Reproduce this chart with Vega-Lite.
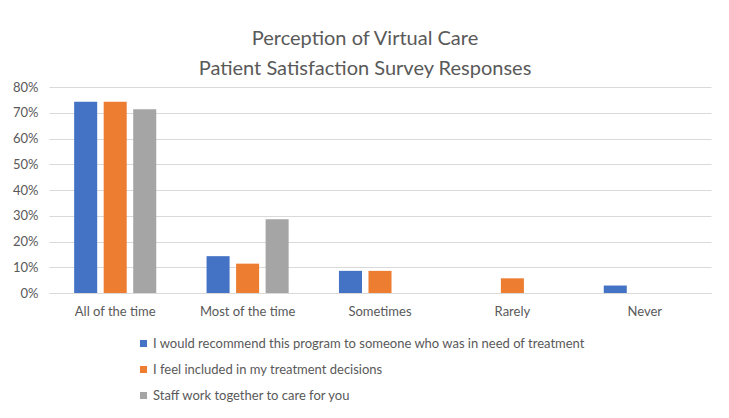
{
  "$schema": "https://vega.github.io/schema/vega-lite/v6.json",
  "width": 662,
  "height": 206,
  "autosize": "none",
  "padding": {"left": 49, "top": 87, "right": 18, "bottom": 125},
  "background": "white",
  "title": {
    "text": ["Perception of Virtual Care", "Patient Satisfaction Survey Responses"],
    "anchor": "middle",
    "dx": -15,
    "offset": 2,
    "font": "Lato",
    "fontSize": 20,
    "fontWeight": "normal",
    "color": "#595959",
    "lineHeight": 30
  },
  "data": {
    "values": [
      {"response": "All of the time", "question": "I would recommend this program to someone who was in need of treatment", "pct": 0.743},
      {"response": "All of the time", "question": "I feel included in my treatment decisions", "pct": 0.743},
      {"response": "All of the time", "question": "Staff work together to care for you", "pct": 0.714},
      {"response": "Most of the time", "question": "I would recommend this program to someone who was in need of treatment", "pct": 0.143},
      {"response": "Most of the time", "question": "I feel included in my treatment decisions", "pct": 0.114},
      {"response": "Most of the time", "question": "Staff work together to care for you", "pct": 0.286},
      {"response": "Sometimes", "question": "I would recommend this program to someone who was in need of treatment", "pct": 0.086},
      {"response": "Sometimes", "question": "I feel included in my treatment decisions", "pct": 0.086},
      {"response": "Sometimes", "question": "Staff work together to care for you", "pct": 0},
      {"response": "Rarely", "question": "I would recommend this program to someone who was in need of treatment", "pct": 0},
      {"response": "Rarely", "question": "I feel included in my treatment decisions", "pct": 0.057},
      {"response": "Rarely", "question": "Staff work together to care for you", "pct": 0},
      {"response": "Never", "question": "I would recommend this program to someone who was in need of treatment", "pct": 0.029},
      {"response": "Never", "question": "I feel included in my treatment decisions", "pct": 0},
      {"response": "Never", "question": "Staff work together to care for you", "pct": 0}
    ]
  },
  "mark": {"type": "bar"},
  "encoding": {
    "x": {
      "field": "response",
      "type": "nominal",
      "sort": ["All of the time", "Most of the time", "Sometimes", "Rarely", "Never"],
      "scale": {"paddingInner": 0.38, "paddingOuter": 0.19},
      "axis": {
        "title": null,
        "labelAngle": 0,
        "ticks": false,
        "domainColor": "#d9d9d9",
        "labelFont": "Lato",
        "labelFontSize": 13,
        "labelColor": "#595959",
        "labelPadding": 12
      }
    },
    "xOffset": {
      "field": "question",
      "type": "nominal",
      "sort": ["I would recommend this program to someone who was in need of treatment", "I feel included in my treatment decisions", "Staff work together to care for you"],
      "scale": {"paddingInner": 0.22, "paddingOuter": 0}
    },
    "y": {
      "field": "pct",
      "type": "quantitative",
      "scale": {"domain": [0, 0.8], "nice": false},
      "axis": {
        "title": null,
        "format": ".0%",
        "values": [0, 0.1, 0.2, 0.3, 0.4, 0.5, 0.6, 0.7, 0.8],
        "labelOverlap": false,
        "domain": false,
        "ticks": false,
        "gridColor": "#d9d9d9",
        "labelFont": "Lato",
        "labelFontSize": 13,
        "labelColor": "#595959",
        "labelPadding": 11
      }
    },
    "color": {
      "field": "question",
      "type": "nominal",
      "sort": ["I would recommend this program to someone who was in need of treatment", "I feel included in my treatment decisions", "Staff work together to care for you"],
      "scale": {"range": ["#4472C4", "#ED7D31", "#A5A5A5"]},
      "legend": {
        "title": null,
        "orient": "none",
        "legendX": 88,
        "legendY": 250,
        "symbolType": "square",
        "symbolSize": 50,
        "symbolStrokeWidth": 0,
        "labelFont": "Lato",
        "labelFontSize": 13,
        "labelColor": "#595959",
        "labelLimit": 600,
        "rowPadding": 12,
        "labelOffset": 3
      }
    }
  },
  "config": {
    "view": {"stroke": null}
  }
}
